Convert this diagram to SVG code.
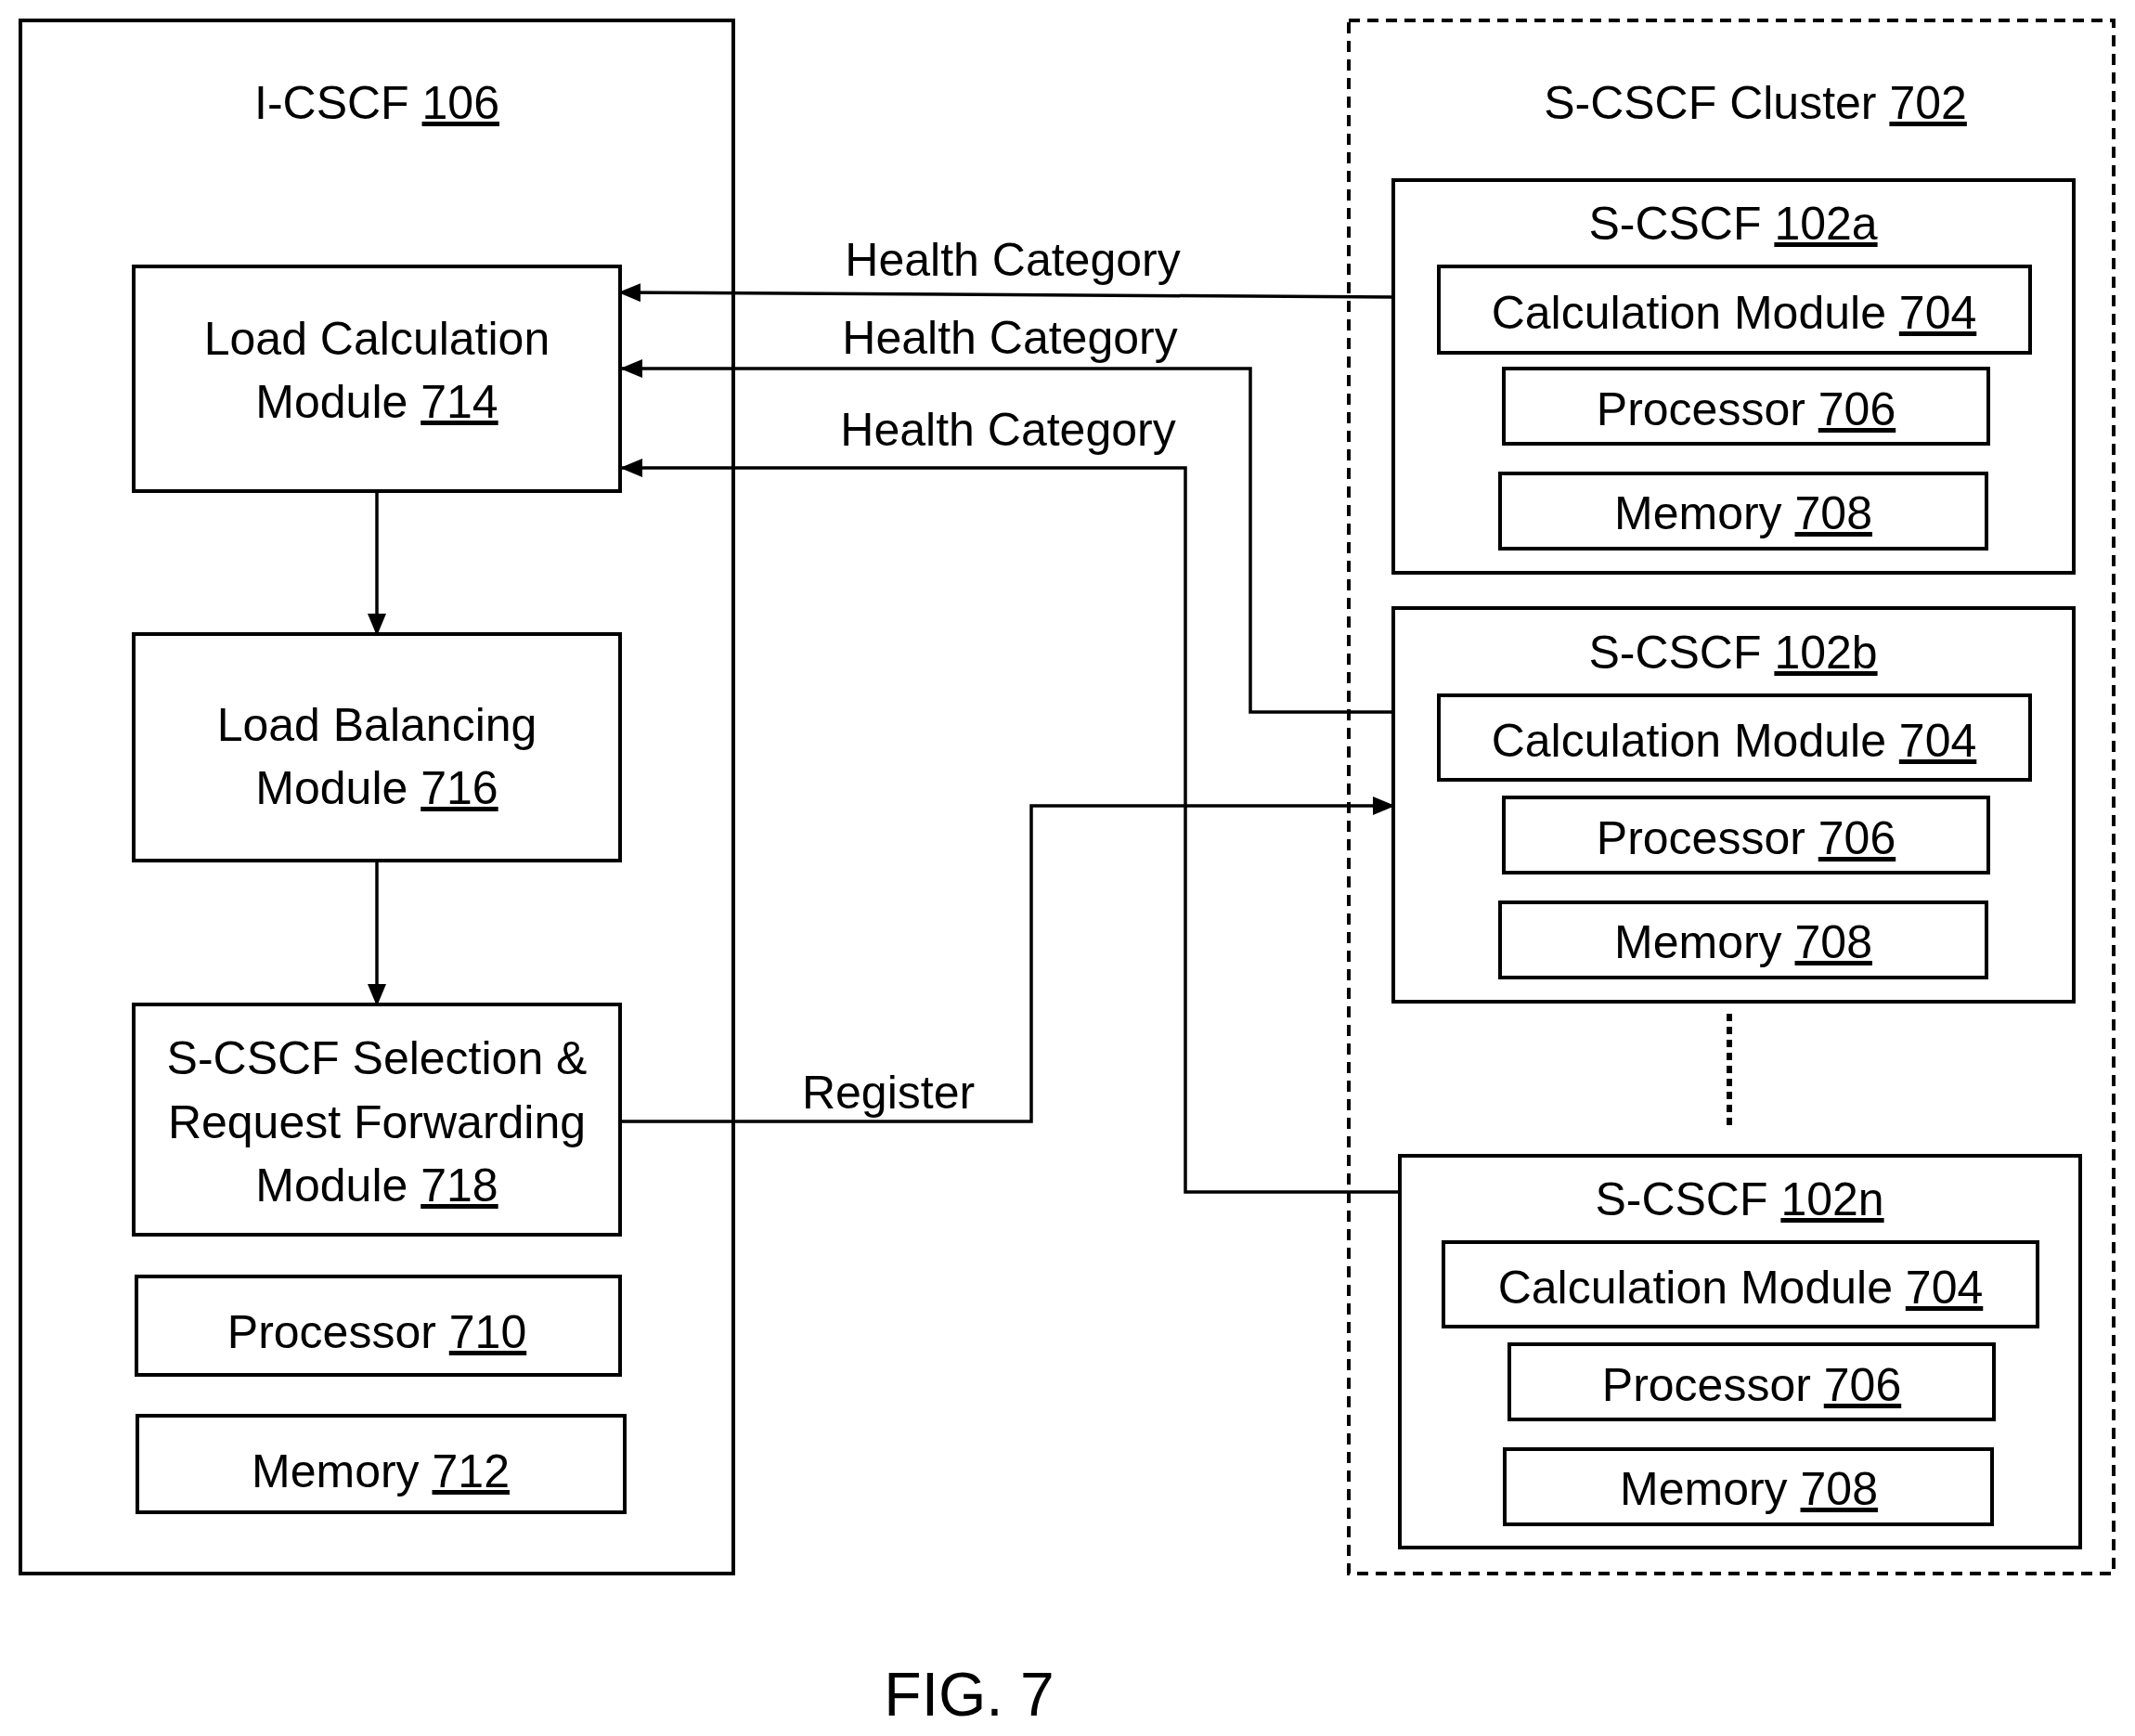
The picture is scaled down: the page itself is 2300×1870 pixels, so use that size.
<svg xmlns="http://www.w3.org/2000/svg" width="2300" height="1870" viewBox="0 0 2300 1870">
<defs>
<style>
rect{fill:none;stroke:#000;stroke-width:4}
.d{stroke-dasharray:12 8}
text{font-family:"Liberation Sans",Arial,sans-serif;font-size:50px;text-anchor:middle;fill:#000}
.u{text-decoration:underline}
.c{fill:none;stroke:#000;stroke-width:3.5}
</style>
<marker id="b" markerWidth="24" markerHeight="20" refX="22" refY="10" orient="auto" markerUnits="userSpaceOnUse"><path d="M0,0L24,10L0,20z"/></marker>
</defs>
<rect x="0" y="0" width="2300" height="1870" style="fill:#fff;stroke:none"/>
<g id="icscf">
<rect x="22" y="22" width="768" height="1673"/>
<text x="406" y="128">I-CSCF <tspan class="u">106</tspan></text>
</g>
<g id="lcm"><rect x="144" y="287" width="524" height="242"/>
<text x="406" y="382">Load Calculation</text><text x="406" y="450">Module <tspan class="u">714</tspan></text></g>
<g id="lbm"><rect x="144" y="683" width="524" height="244"/>
<text x="406" y="798">Load Balancing</text><text x="406" y="866">Module <tspan class="u">716</tspan></text></g>
<g id="sel"><rect x="144" y="1082" width="524" height="248"/>
<text x="406" y="1157">S-CSCF Selection &amp;</text><text x="406" y="1226">Request Forwarding</text><text x="406" y="1294">Module <tspan class="u">718</tspan></text></g>
<g id="p710"><rect x="147" y="1375" width="521" height="106"/><text x="406" y="1452">Processor <tspan class="u">710</tspan></text></g>
<g id="m712"><rect x="148" y="1525" width="525" height="104"/><text x="410" y="1602">Memory <tspan class="u">712</tspan></text></g>
<g id="cluster"><rect class="d" x="1453" y="22" width="824" height="1673"/>
<text x="1891" y="128">S-CSCF Cluster <tspan class="u">702</tspan></text></g>
<g id="s102a"><rect x="1501" y="194" width="733" height="423"/>
<text x="1867" y="258">S-CSCF <tspan class="u">102a</tspan></text>
<rect x="1550" y="287" width="637" height="93"/><text x="1868" y="354">Calculation Module <tspan class="u">704</tspan></text>
<rect x="1620" y="397" width="522" height="81"/><text x="1881" y="458">Processor <tspan class="u">706</tspan></text>
<rect x="1616" y="510" width="524" height="81"/><text x="1878" y="570">Memory <tspan class="u">708</tspan></text></g>
<g id="s102b"><rect x="1501" y="655" width="733" height="424"/>
<text x="1867" y="720">S-CSCF <tspan class="u">102b</tspan></text>
<rect x="1550" y="749" width="637" height="91"/><text x="1868" y="815">Calculation Module <tspan class="u">704</tspan></text>
<rect x="1620" y="859" width="522" height="81"/><text x="1881" y="920">Processor <tspan class="u">706</tspan></text>
<rect x="1616" y="972" width="524" height="81"/><text x="1878" y="1032">Memory <tspan class="u">708</tspan></text></g>
<g id="dots"><line x1="1863" y1="1092" x2="1863" y2="1217" stroke="#000" stroke-width="6" stroke-dasharray="8 6"/></g>
<g id="s102n"><rect x="1508" y="1245" width="733" height="422"/>
<text x="1874" y="1309">S-CSCF <tspan class="u">102n</tspan></text>
<rect x="1555" y="1338" width="640" height="91"/><text x="1875" y="1404">Calculation Module <tspan class="u">704</tspan></text>
<rect x="1626" y="1448" width="522" height="81"/><text x="1887" y="1509">Processor <tspan class="u">706</tspan></text>
<rect x="1621" y="1561" width="525" height="81"/><text x="1884" y="1621">Memory <tspan class="u">708</tspan></text></g>
<g id="connectors">
<polyline class="c" points="1501,320 668,315" marker-end="url(#b)"/>
<polyline class="c" points="1501,767 1347,767 1347,397 670,397" marker-end="url(#b)"/>
<polyline class="c" points="1508,1284 1277,1284 1277,504 670,504" marker-end="url(#b)"/>
<polyline class="c" points="668,1208 1111,1208 1111,868 1501,868" marker-end="url(#b)"/>
<line class="c" x1="406" y1="529" x2="406" y2="683" marker-end="url(#b)"/>
<line class="c" x1="406" y1="927" x2="406" y2="1082" marker-end="url(#b)"/>
<text x="1091" y="297">Health Category</text>
<text x="1088" y="381">Health Category</text>
<text x="1086" y="480">Health Category</text>
<text x="957" y="1194">Register</text>
</g>
<text x="1044" y="1848" style="font-size:66px">FIG. 7</text>
</svg>
